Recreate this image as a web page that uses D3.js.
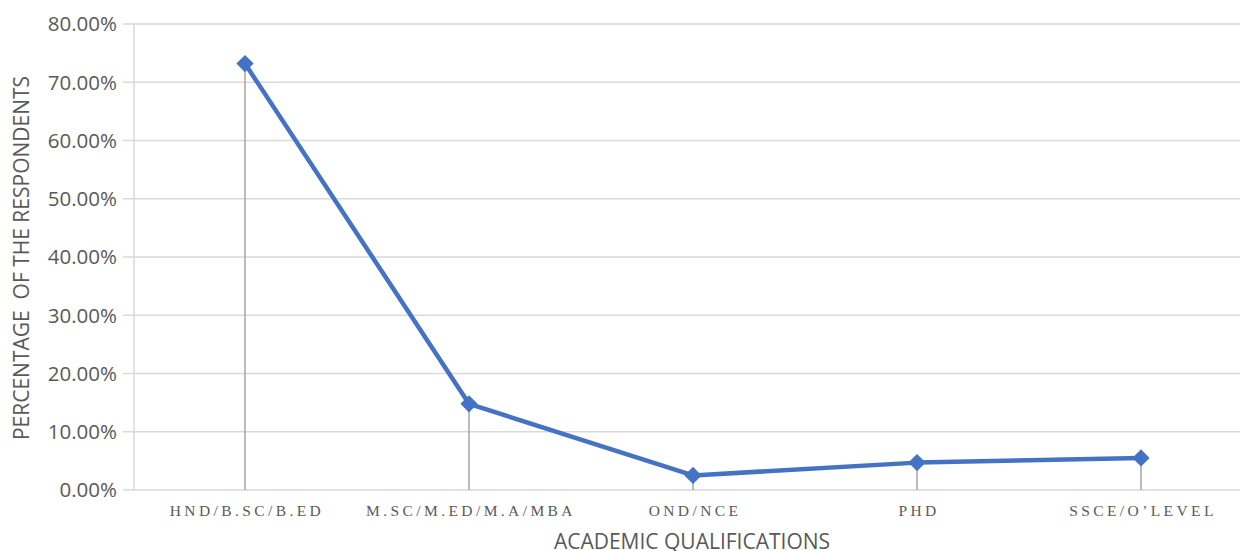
<!DOCTYPE html>
<html>
<head>
<meta charset="utf-8">
<script src="https://cdn.jsdelivr.net/npm/d3@7"></script>
<style>
  html, body { margin: 0; padding: 0; background: #fff; }
  svg { display: block; }
</style>
</head>
<body>
<svg id="chart" width="1240" height="551"></svg>
<script>
// Share of respondents by academic qualification
const categories = ["HND/B.SC/B.ED", "M.SC/M.ED/M.A/MBA", "OND/NCE", "PHD", "SSCE/O\u2019LEVEL"];
const percentages = [73.2, 14.8, 2.5, 4.7, 5.5];
const yTicks = [0, 10, 20, 30, 40, 50, 60, 70, 80];

const svg = d3.select("#chart");
const plot = { left: 133, right: 1253, top: 24, bottom: 490 };

const x = d3.scaleBand().domain(categories).range([plot.left, plot.right]);
const y = d3.scaleLinear().domain([0, 80]).range([plot.bottom, plot.top]);
const cx = c => x(c) + x.bandwidth() / 2;

const grey = "#595959";

// horizontal gridlines with short tick stubs on the left
svg.append("g")
  .selectAll("line")
  .data(yTicks)
  .join("line")
  .attr("x1", plot.left - 10)
  .attr("x2", plot.right)
  .attr("y1", d => y(d))
  .attr("y2", d => y(d))
  .attr("stroke", "#d9d9d9")
  .attr("stroke-width", 1.5);

// vertical axis line
svg.append("line")
  .attr("x1", plot.left + 1).attr("x2", plot.left + 1)
  .attr("y1", plot.top).attr("y2", plot.bottom)
  .attr("stroke", "#d9d9d9").attr("stroke-width", 1.5);

// y tick labels
svg.append("g")
  .selectAll("text")
  .data(yTicks)
  .join("text")
  .attr("x", plot.left - 16)
  .attr("y", d => y(d))
  .attr("dy", "0.36em")
  .attr("text-anchor", "end")
  .attr("font-family", "Open Sans, sans-serif")
  .attr("font-size", 20.5)
  .attr("fill", grey)
  .text(d => d3.format(".2f")(d) + "%");

// drop lines from each point to the category axis
svg.append("g")
  .selectAll("line")
  .data(categories)
  .join("line")
  .attr("x1", d => cx(d))
  .attr("x2", d => cx(d))
  .attr("y1", (d, i) => y(percentages[i]))
  .attr("y2", plot.bottom)
  .attr("stroke", "#a6a6a6")
  .attr("stroke-width", 1.5);

// category labels
svg.append("g")
  .selectAll("text")
  .data(categories)
  .join("text")
  .attr("x", d => cx(d) + 2)
  .attr("y", 516)
  .attr("text-anchor", "middle")
  .attr("font-family", "Liberation Serif, serif")
  .attr("font-size", 15.5)
  .attr("letter-spacing", "3.4px")
  .attr("fill", grey)
  .text(d => d);

// data line
const line = d3.line()
  .x((d, i) => cx(categories[i]))
  .y(d => y(d));

svg.append("path")
  .datum(percentages)
  .attr("d", line)
  .attr("fill", "none")
  .attr("stroke", "#4472c4")
  .attr("stroke-width", 4.5)
  .attr("stroke-linejoin", "round");

// diamond markers
const diamond = d3.symbol().type(d3.symbolDiamond2).size(190);
svg.append("g")
  .selectAll("path")
  .data(percentages)
  .join("path")
  .attr("transform", (d, i) => `translate(${cx(categories[i])},${y(d)})`)
  .attr("d", diamond)
  .attr("fill", "#4472c4");

// axis titles
svg.append("text")
  .attr("x", 692)
  .attr("y", 549)
  .attr("text-anchor", "middle")
  .attr("font-family", "Open Sans, sans-serif")
  .attr("font-size", 21)
  .attr("fill", grey)
  .text("ACADEMIC QUALIFICATIONS");

svg.append("text")
  .attr("transform", "translate(29,258) rotate(-90)")
  .attr("text-anchor", "middle")
  .attr("font-family", "Open Sans, sans-serif")
  .attr("font-size", 21)
  .attr("fill", grey)
  .attr("xml:space", "preserve")
  .style("white-space", "pre")
  .text("PERCENTAGE  OF THE RESPONDENTS");
</script>
</body>
</html>
